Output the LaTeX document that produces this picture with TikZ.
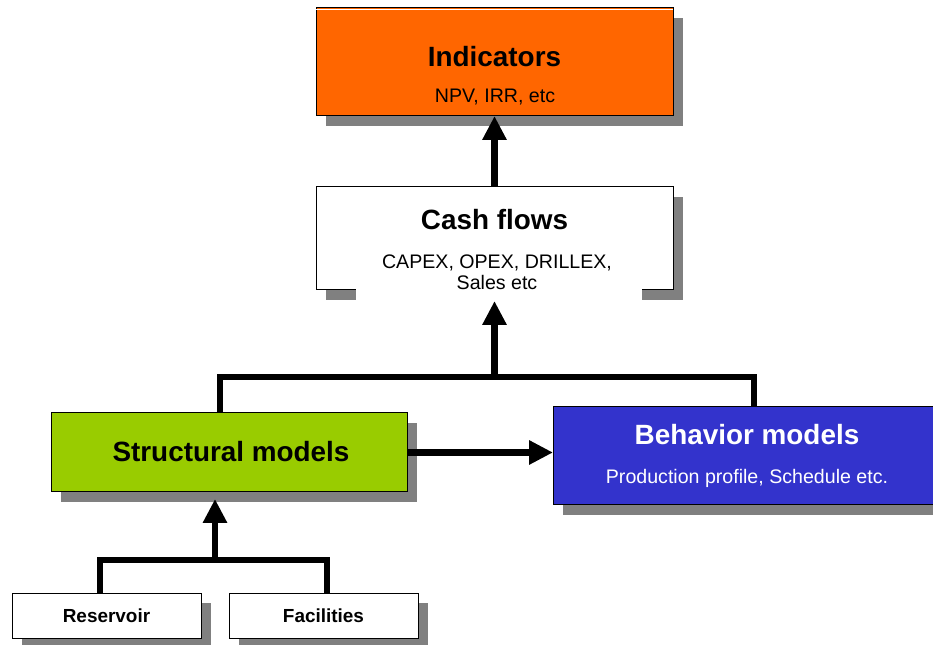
\documentclass[tikz,border=0pt]{standalone}
\usepackage{fontspec}
\setmainfont{Liberation Sans}
\usetikzlibrary{arrows.meta,shadows,calc}

\definecolor{indorange}{HTML}{FF6600}
\definecolor{structgreen}{HTML}{99CC00}
\definecolor{behavblue}{HTML}{3333CC}
\definecolor{shgray}{HTML}{808080}

\tikzset{
  box/.style={draw=black, line width=0.75pt, inner sep=0pt, outer sep=0pt,
    drop shadow={shadow xshift=7.5pt, shadow yshift=-7.5pt, fill=shgray, opacity=1}},
  title/.style={anchor=base, inner sep=0pt, font=\bfseries\fontsize{20.9pt}{25pt}\selectfont},
  subtitle/.style={anchor=base, inner sep=0pt, font=\fontsize{14.7pt}{17pt}\selectfont},
  leaftext/.style={anchor=base, inner sep=0pt, font=\bfseries\fontsize{14.2pt}{17pt}\selectfont},
  conn/.style={line width=5pt, line join=miter},
  tip/.style={-{Triangle[length=18pt,width=17.25pt]}}
}

\begin{document}
\begin{tikzpicture}[x=0.75pt,y=-0.75pt]
\useasboundingbox (0,0) rectangle (933,645);
\clip (0,0) rectangle (933,645);

% boxes
\node[box, fill=indorange, minimum width=267.75pt, minimum height=81pt] (ind) at (494.5,62) {};
\draw[white, line width=0.6pt] ([yshift=-1.3pt]ind.north west) -- ([yshift=-1.3pt]ind.north east);
\node[box, fill=white, minimum width=267.75pt, minimum height=77.25pt] (cash) at (494.5,238.5) {};
% text panel running over the lower edge of the cash-flow box
\fill[white] (356,289.2) rectangle (642,300);
\node[box, fill=structgreen, minimum width=267pt, minimum height=59.25pt] (struct) at (229,452.5) {};
\node[box, fill=behavblue, minimum width=291pt, minimum height=73.5pt] (behav) at (747,456) {};
\node[box, fill=white, minimum width=141.75pt, minimum height=33.75pt] (res) at (106.5,615.5) {};
\node[box, fill=white, minimum width=141.75pt, minimum height=33.75pt] (fac) at (323.5,615.5) {};

% labels
\node[title] (indT) at (494.5,67) {Indicators};
\node[subtitle] (indS) at (495,103) {NPV, IRR, etc};
\node[title] (cashT) at (494.5,230) {Cash flows};
\node[subtitle] (cashS1) at (497,269) {CAPEX, OPEX, DRILLEX,};
\node[subtitle] (cashS2) at (497,290) {Sales etc};
\node[title] (structT) at (231,462) {Structural models};
\node[title, text=white] (behavT) at (747,445) {Behavior models};
\node[subtitle, text=white] (behavS) at (747,484) {Production profile, Schedule etc.};
\node[leaftext] (resT) at (106.5,623) {Reservoir};
\node[leaftext] (facT) at (323.5,623) {Facilities};

% connectors
\coordinate (bus) at (494.5,377);
\coordinate (fork) at (215,560);
\coordinate (cashin) at ($(cash.south -| bus)+(0,11)$);
\coordinate (structin) at ($(struct.south -| fork)+(0,7)$);

\draw[conn, tip] (cash.north) -- (ind.south);
\draw[conn] ([xshift=-6.75pt]struct.north) |- (bus) -| ([xshift=5.25pt]behav.north);
\draw[conn, tip] (bus) -- (cashin);
\draw[conn, tip] (struct.east) -- (struct.east -| behav.west);
\draw[conn] ([xshift=-4.9pt]res.north) -- ++(0,-33) -| ([xshift=2.6pt]fac.north);
\draw[conn, tip] (fork) -- (structin);
\end{tikzpicture}
\end{document}
